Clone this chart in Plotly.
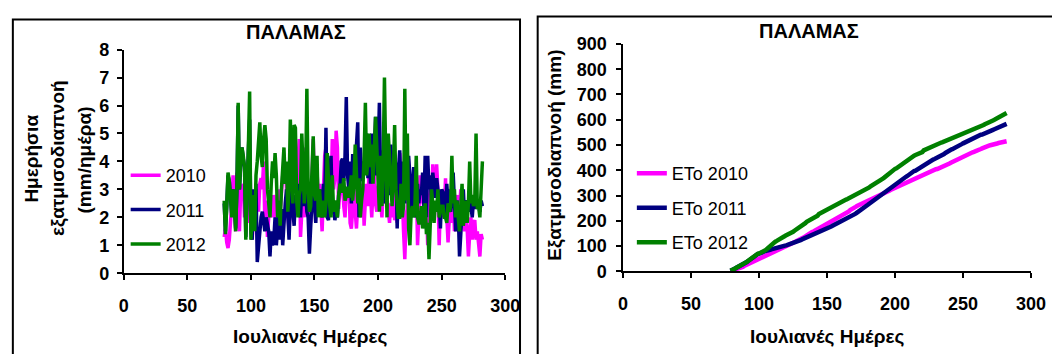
import numpy as np
import plotly.graph_objects as go

# Julian days of the observation period
days = list(range(79, 283))

# Daily reference evapotranspiration ETo (mm/day), Palamas station
et_2010 = [
    1.3, 1.6, 1.1, 0.9, 1.2, 1.8, 2.5, 3.5, 2.0, 1.5,
    3.6, 2.5, 1.5, 3.0, 3.0, 3.2, 2.0, 3.6, 2.5, 1.8,
    2.2, 1.6, 1.2, 2.0, 2.8, 2.4, 3.0, 2.2, 3.2, 3.4,
    3.0, 4.0, 1.7, 2.6, 1.3, 2.0, 2.8, 2.5, 2.0, 2.8,
    2.4, 1.8, 2.6, 3.0, 2.2, 2.8, 3.5, 3.2, 3.9, 3.0,
    2.0, 1.5, 2.4, 3.6, 4.2, 3.0, 4.4, 3.2, 3.8, 4.8,
    1.3, 2.5, 3.0, 2.0, 4.5, 3.0, 2.0, 2.4, 1.8, 3.4,
    4.8, 3.0, 2.5, 3.6, 2.8, 3.2, 2.4, 1.5, 3.0, 4.2,
    4.5, 2.6, 2.2, 3.2, 2.8, 4.8, 3.0, 3.4, 5.1, 4.5,
    2.3, 3.0, 2.8, 3.3, 2.4, 2.0, 3.0, 2.6, 3.2, 1.8,
    1.6, 2.5, 3.0, 2.2, 1.6, 2.5, 3.0, 2.8, 2.0, 3.2,
    1.7, 2.6, 3.2, 2.4, 4.0, 2.8, 2.0, 3.0, 3.6, 2.5,
    2.2, 3.0, 3.4, 2.6, 2.0, 3.0, 2.5, 3.2, 2.8, 2.4,
    1.8, 2.5, 2.0, 3.0, 1.9, 2.2, 1.8, 2.4, 4.3, 2.0,
    2.8, 1.5, 0.5, 2.0, 2.5, 2.8, 1.8, 2.4, 3.0, 2.2,
    2.6, 3.4, 1.0, 2.0, 3.5, 2.5, 3.0, 2.2, 2.8, 2.4,
    1.0, 2.5, 3.0, 2.6, 3.9, 3.0, 2.8, 3.9, 3.0, 1.0,
    2.5, 2.0, 3.0, 2.2, 3.4, 2.0, 1.1, 2.0, 2.6, 1.8,
    3.2, 1.5, 2.4, 2.8, 1.6, 2.5, 3.0, 1.8, 2.2, 1.5,
    2.0, 1.6, 0.6, 1.4, 2.0, 1.2, 1.8, 1.9, 1.2, 1.5,
    1.0, 0.6, 1.4, 1.2,
]

et_2011 = [
    2.5, 1.5, 2.4, 3.5, 3.3, 2.7, 2.1, 3.0, 2.5, 1.6,
    3.0, 6.0, 3.0, 3.9, 4.5, 4.1, 3.8, 1.3, 3.5, 4.4,
    5.5, 1.6, 1.2, 3.0, 2.4, 3.2, 0.4, 1.0, 1.8, 2.0,
    2.2, 1.9, 1.5, 2.0, 1.8, 1.5, 0.6, 1.5, 1.0, 1.2,
    2.0, 1.0, 1.6, 2.5, 1.2, 2.3, 1.0, 2.0, 2.5, 3.0,
    2.0, 1.2, 2.5, 3.0, 2.2, 1.7, 2.8, 2.4, 3.2, 2.6,
    2.0, 3.0, 2.4, 2.8, 3.1, 2.2, 2.0, 0.7, 2.0, 2.6,
    3.0, 2.3, 1.8, 2.8, 2.3, 3.0, 2.6, 2.0, 3.2, 2.4,
    5.2, 2.0, 1.9, 3.7, 4.2, 2.1, 2.5, 1.9, 2.2, 2.0,
    2.8, 3.0, 4.0, 4.1, 3.3, 4.2, 6.3, 3.5, 3.0, 4.0,
    2.5, 4.2, 4.2, 4.0, 4.6, 5.4, 2.0, 4.5, 3.3, 3.6,
    4.0, 3.8, 5.0, 3.4, 4.6, 3.2, 5.0, 3.6, 4.2, 5.6,
    3.5, 4.2, 6.1, 3.3, 2.5, 4.0, 5.0, 2.5, 3.0, 2.8,
    3.2, 4.6, 3.6, 3.4, 4.2, 3.8, 1.6, 3.6, 4.4, 3.0,
    3.0, 4.0, 2.5, 3.6, 3.0, 4.2, 3.5, 2.0, 3.2, 3.8,
    2.0, 2.3, 3.2, 2.5, 3.0, 2.8, 3.6, 2.4, 4.2, 2.0,
    4.2, 3.0, 3.5, 2.5, 3.6, 3.0, 2.7, 3.4, 3.0, 2.6,
    1.6, 3.0, 2.9, 2.7, 2.0, 3.2, 2.5, 3.0, 2.2, 2.6,
    3.6, 2.8, 1.5, 2.6, 2.2, 0.6, 1.8, 2.2, 3.0, 2.0,
    2.5, 2.6, 2.2, 2.6, 2.4, 2.0, 2.6, 2.5, 2.3, 2.6,
    2.4, 2.2, 2.6, 2.4,
]

et_2012 = [
    2.6, 1.4, 2.4, 3.6, 3.3, 2.8, 2.0, 3.0, 2.6, 1.5,
    3.0, 6.1, 3.0, 4.0, 4.5, 4.2, 3.8, 1.2, 3.6, 4.5,
    6.5, 1.2, 2.0, 2.8, 1.5, 3.5, 4.0, 4.6, 5.4, 4.2,
    3.8, 4.8, 5.3, 4.8, 3.0, 2.5, 2.0, 3.2, 4.0, 3.4,
    4.3, 3.5, 2.0, 2.6, 1.7, 3.0, 3.8, 4.5, 3.2, 4.0,
    2.2, 3.0, 5.5, 4.0, 2.5, 5.3, 5.2, 2.6, 2.0, 2.8,
    3.0, 5.0, 3.2, 2.5, 3.4, 6.6, 3.0, 2.2, 2.4, 3.5,
    4.9, 2.8, 2.6, 4.2, 2.0, 3.0, 2.2, 2.0, 2.6, 2.0,
    2.5, 4.3, 3.0, 2.4, 2.0, 3.5, 2.2, 2.6, 2.4, 2.0,
    2.8, 3.2, 3.0, 2.9, 3.4, 2.6, 2.8, 3.1, 2.7, 3.0,
    3.5, 2.6, 3.2, 4.6, 3.0, 2.5, 3.4, 2.0, 2.6, 3.0,
    4.2, 6.1, 3.5, 4.0, 5.0, 3.8, 4.6, 3.2, 4.4, 5.6,
    4.5, 3.6, 2.2, 4.2, 2.4, 4.0, 7.0, 4.0, 2.0, 5.0,
    4.0, 3.0, 2.4, 3.6, 5.3, 3.0, 2.5, 2.0, 2.0, 3.2,
    2.0, 2.4, 6.6, 2.6, 5.0, 1.6, 1.0, 2.2, 2.4, 2.0,
    2.5, 4.2, 2.0, 1.8, 1.8, 2.4, 1.6, 2.2, 2.5, 1.4,
    1.8, 0.5, 2.0, 3.0, 2.5, 1.8, 2.6, 2.2, 3.0, 2.0,
    2.2, 2.4, 2.4, 2.0, 2.0, 1.8, 2.5, 2.2, 2.4, 4.2,
    2.5, 3.0, 2.0, 2.6, 2.0, 1.5, 2.4, 3.2, 1.7, 2.2,
    2.6, 1.8, 2.5, 4.0, 2.5, 2.8, 2.4, 2.6, 5.0, 2.3,
    2.4, 2.0, 3.2, 4.0,
]

years = ["2010", "2011", "2012"]
series = [et_2010, et_2011, et_2012]
colors = ["#FF00FF", "#000080", "#008000"]

W, H = 1052, 354
FONT = "Liberation Sans, Arial, sans-serif"


def px(x):
    return x / W


def py(y):
    return 1 - y / H


fig = go.Figure()

# Left panel: daily ETo
for yr, vals, col in zip(years, series, colors):
    fig.add_trace(go.Scatter(
        x=days, y=vals, mode="lines", name=yr,
        line=dict(color=col, width=3.5),
        xaxis="x", yaxis="y", legend="legend", legendgroup="d" + yr,
    ))

# Right panel: cumulative ETo
for yr, vals, col in zip(years, series, colors):
    fig.add_trace(go.Scatter(
        x=days, y=np.cumsum(vals), mode="lines", name="ETo " + yr,
        line=dict(color=col, width=4.5),
        xaxis="x2", yaxis="y2", legend="legend2", legendgroup="c" + yr,
    ))

axis_common = dict(
    showline=True, linecolor="black", linewidth=1.5,
    ticks="outside", ticklen=5, tickwidth=1.5, tickcolor="black",
    showgrid=False, zeroline=False,
    tickfont=dict(family=FONT, size=18, color="black", weight="bold"),
)

fig.update_layout(
    width=W, height=H,
    margin=dict(l=0, r=0, t=0, b=0),
    paper_bgcolor="white", plot_bgcolor="white",
    font=dict(family=FONT, color="black"),
    xaxis=dict(domain=[px(121), px(510)], range=[0, 300], dtick=50,
               anchor="y", ticklabelstandoff=10, **axis_common),
    yaxis=dict(domain=[py(279), py(42)], range=[0, 8], dtick=1,
               anchor="x", ticklabelstandoff=4, **axis_common),
    xaxis2=dict(domain=[px(630), px(1046)], range=[0, 300], dtick=50,
                anchor="y2", ticklabelstandoff=10, **axis_common),
    yaxis2=dict(domain=[py(277), py(36)], range=[0, 900], dtick=100,
                anchor="x2", ticklabelstandoff=6, **axis_common),
    legend=dict(x=px(123), y=py(212), xanchor="left", yanchor="middle",
                bgcolor="rgba(0,0,0,0)", borderwidth=0,
                font=dict(family=FONT, size=18, color="black"),
                traceorder="grouped", tracegroupgap=8),
    legend2=dict(x=px(639), y=py(210), xanchor="left", yanchor="middle",
                 bgcolor="rgba(0,0,0,0)", borderwidth=0,
                 font=dict(family=FONT, size=18, color="black"),
                 traceorder="grouped", tracegroupgap=8),
    showlegend=True,
)

# Panel frames
fig.add_shape(type="rect", xref="paper", yref="paper",
              x0=px(8), x1=px(525), y0=-0.1, y1=py(10),
              line=dict(color="black", width=2), fillcolor="rgba(0,0,0,0)")
fig.add_shape(type="rect", xref="paper", yref="paper",
              x0=px(543), x1=1.1, y0=-0.1, y1=py(7),
              line=dict(color="black", width=2), fillcolor="rgba(0,0,0,0)")

bold_axis = dict(family=FONT, size=19, color="black", weight="bold")
bold_title = dict(family=FONT, size=20, color="black", weight="bold")


def note(text, x, y, font, angle=0):
    fig.add_annotation(text=text, x=px(x), y=py(y), xref="paper", yref="paper",
                       xanchor="center", yanchor="middle", showarrow=False,
                       textangle=angle, font=font)


# Titles
note("ΠΑΛΑΜΑΣ", 297, 23, bold_title)
note("ΠΑΛΑΜΑΣ", 820, 22, bold_title)

# Axis titles
note("Ιουλιανές Ημέρες", 311, 346, bold_axis)
note("Ιουλιανές Ημέρες", 838, 346, bold_axis)
note("Ημερήσια", 27, 157, bold_axis, -90)
note("εξατμισοδιαπνοή", 54, 157, bold_axis, -90)
note("(mm/ημέρα)", 81, 159, bold_axis, -90)
note("Εξατμισοδιαπνοή (mm)", 561, 154, bold_axis, -90)

fig.write_html("out.html")
